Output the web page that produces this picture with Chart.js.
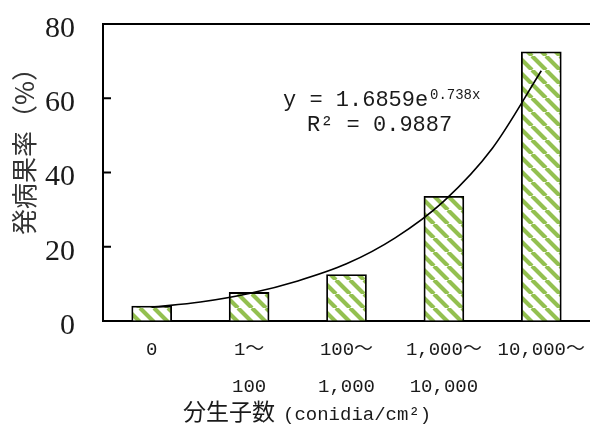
<!DOCTYPE html>
<html>
<head>
<meta charset="utf-8">
<script src="https://cdn.jsdelivr.net/npm/chart.js@4"></script>
<style>
  body { margin: 0; background: #fff; }
  #wrap { width: 590px; height: 433px; }
</style>
</head>
<body>
<div id="wrap"><canvas id="chart"></canvas></div>
<script>
// categories (spore counts) and disease rate (%)
const categories = [["0"], ["1～", "100"], ["100～", "1,000"], ["1,000～", "10,000"], ["10,000～"]];
const catPos = [1, 2, 3, 4, 5];
const rates = [4.0, 7.7, 12.5, 33.6, 72.5];
// exponential trendline at category positions 1..5
const trendX = [1, 1.5, 2, 2.5, 3, 3.5, 4, 4.5, 5];
const trendY = [3.7, 5.1, 7.4, 10.8, 15.4, 22.4, 32.3, 46.6, 67.4];
const yTicks = [0, 20, 40, 60, 80];

const canvas = document.getElementById("chart");
const ctx = canvas.getContext("2d");

// green diagonal hatch for the bars
function makeStripes() {
    const c = document.createElement("canvas");
    c.width = 14; c.height = 14;
    const g = c.getContext("2d");
    g.fillStyle = "#ffffff";
    g.fillRect(0, 0, 14, 14);
    g.strokeStyle = "#93c050";
    g.lineWidth = 4.2;
    g.beginPath();
    [-14, 0, 14].forEach(o => { g.moveTo(o, 0); g.lineTo(o + 14, 14); });
    g.stroke();
    return ctx.createPattern(c, "repeat");
}

const extras = {
    id: "extras",
    afterDraw(chart) {
        const c = chart.ctx;
        const a = chart.chartArea;
        const y = chart.scales.y;
        c.save();
        // top frame line
        c.strokeStyle = "#000";
        c.lineWidth = 2;
        c.beginPath();
        c.moveTo(a.left - 1, a.top);
        c.lineTo(chart.width, a.top);
        c.stroke();
        // inward tick marks
        yTicks.forEach(v => {
            const py = y.getPixelForValue(v);
            c.beginPath();
            c.moveTo(a.left, py);
            c.lineTo(a.left + 8, py);
            c.stroke();
        });
        // y title
        c.fillStyle = "#333";
        c.font = "26px 'Noto Sans CJK JP'";
        c.textAlign = "center";
        c.textBaseline = "middle";
        c.translate(24, 145);
        c.rotate(-Math.PI / 2);
        c.fillText("発病果率（%）", 0, 0);
        c.setTransform(1, 0, 0, 1, 0, 0);
        // x title
        c.fillStyle = "#1a1a1a";
        c.textAlign = "left";
        c.textBaseline = "alphabetic";
        c.font = "23px 'Noto Sans CJK JP'";
        c.fillText("分生子数", 183, 420);
        c.font = "19px 'Liberation Mono'";
        c.fillText("(conidia/cm²)", 283, 420);
        // trendline equation
        c.font = "22px 'Liberation Mono'";
        c.fillText("y = 1.6859e", 283, 106);
        c.fillText("R² = 0.9887", 307, 131);
        c.font = "14px 'Liberation Mono'";
        c.fillText("0.738x", 430, 99);
        c.restore();
    }
};

new Chart(canvas, {
    type: "bar",
    data: {
        datasets: [{
            type: "line",
            data: trendX.map((x, i) => ({ x: x, y: trendY[i] })),
            borderColor: "#000",
            borderWidth: 1.6,
            pointRadius: 0,
            cubicInterpolationMode: "monotone",
            order: 0
        }, {
            data: catPos.map((x, i) => ({ x: x, y: rates[i] })),
            backgroundColor: makeStripes(),
            borderColor: "#000",
            borderWidth: 1.8,
            barThickness: 40,
            order: 1
        }]
    },
    options: {
        responsive: true,
        maintainAspectRatio: false,
        animation: false,
        layout: { padding: { top: 24, left: 0, right: 0, bottom: 0 } },
        plugins: { legend: { display: false }, tooltip: { enabled: false } },
        scales: {
            x: {
                type: "linear",
                min: 0.5,
                max: 5.5,
                offset: false,
                grid: { display: true, drawOnChartArea: false, drawTicks: false, offset: false },
                border: { display: true, color: "#000", width: 2 },
                afterBuildTicks: s => { s.ticks = catPos.map(v => ({ value: v })); },
                ticks: {
                    color: "#1a1a1a",
                    padding: 10,
                    maxRotation: 0,
                    autoSkip: false,
                    callback: v => categories[catPos.indexOf(v)],
                    font: { family: "'Liberation Mono', 'Noto Sans CJK JP'", size: 19, lineHeight: "37px" }
                },
                afterFit: s => { s.height = 112; s.paddingLeft = 0; s.paddingRight = 0; }
            },
            y: {
                min: 0,
                max: 80,
                grid: { display: true, drawOnChartArea: false, drawTicks: false },
                border: { display: true, color: "#000", width: 2 },
                ticks: {
                    stepSize: 20,
                    color: "#1a1a1a",
                    padding: 28,
                    labelOffset: 5,
                    font: { family: "'Liberation Serif'", size: 30 }
                },
                afterFit: s => { s.width = 103; s.paddingTop = 0; s.paddingBottom = 0; }
            }
        }
    },
    plugins: [extras]
});
</script>
</body>
</html>
